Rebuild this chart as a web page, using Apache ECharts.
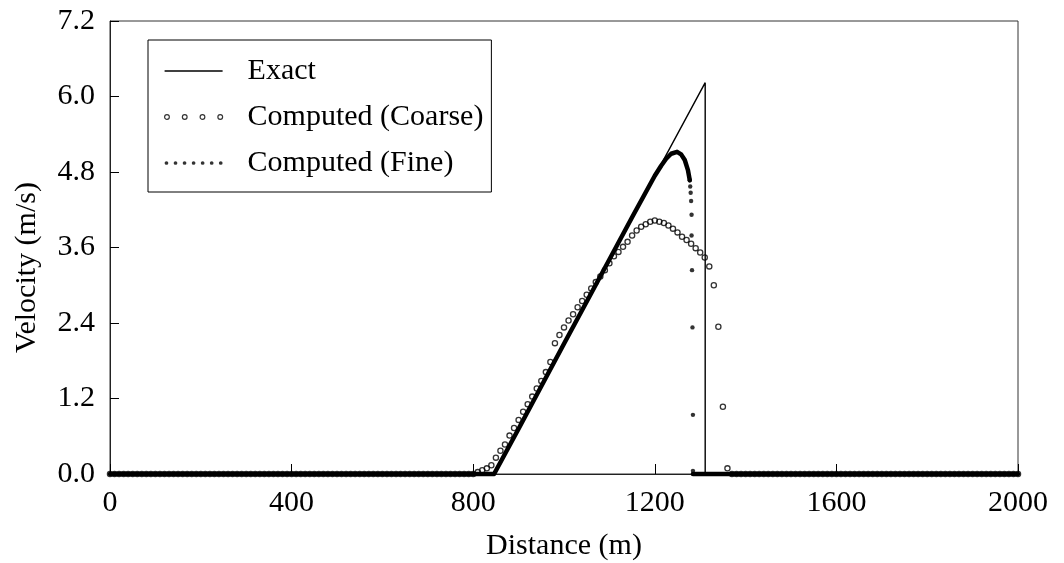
<!DOCTYPE html>
<html><head><meta charset="utf-8">
<script src="https://cdn.jsdelivr.net/npm/echarts/dist/echarts.min.js"></script>
<style>html,body{margin:0;padding:0;background:#fff}#c{width:1064px;height:563px}</style>
</head><body><div id="c"></div>
<script>
// ---- data ----
const xTickLabels = ['0', '400', '800', '1200', '1600', '2000'];
const yTickLabels = ['0.0', '1.2', '2.4', '3.6', '4.8', '6.0', '7.2'];

// Exact solution (triangular wave with shock)
const exactX = [0, 846, 1311, 1311, 2000];
const exactV = [0, 0, 6.22, 0, 0];

// Computed (Coarse): values on a 10 m grid starting at 0 m
const COARSE_DX = 10;
const coarseV = [
  // 0 .. 800 m
  0,0,0,0,0,0,0,0,0,0, 0,0,0,0,0,0,0,0,0,0,
  0,0,0,0,0,0,0,0,0,0, 0,0,0,0,0,0,0,0,0,0,
  0,0,0,0,0,0,0,0,0,0, 0,0,0,0,0,0,0,0,0,0,
  0,0,0,0,0,0,0,0,0,0, 0,0,0,0,0,0,0,0,0,0,
  0,
  // 810 .. 1360 m
  0.03, 0.06, 0.09, 0.14, 0.26, 0.37, 0.47, 0.61, 0.73, 0.86,
  0.99, 1.11, 1.23, 1.36, 1.48, 1.62, 1.78, 2.08, 2.21, 2.33,
  2.44, 2.54, 2.65, 2.75, 2.85, 2.95, 3.05, 3.14, 3.24, 3.35,
  3.46, 3.53, 3.61, 3.69, 3.79, 3.87, 3.93, 3.97, 4.01, 4.03,
  4.01, 3.99, 3.95, 3.90, 3.84, 3.77, 3.72, 3.66, 3.59, 3.52,
  3.44, 3.30, 3.00, 2.34, 1.07, 0.09,
  // 1370 .. 2000 m
  0,0,0,0,0,0,0,0,0,0, 0,0,0,0,0,0,0,0,0,0,
  0,0,0,0,0,0,0,0,0,0, 0,0,0,0,0,0,0,0,0,0,
  0,0,0,0,0,0,0,0,0,0, 0,0,0,0,0,0,0,0,0,0,
  0,0,0,0
];

// Computed (Fine): dense points, drawn as a continuous band where they merge
const fineBandX = [0, 846, 900, 1000, 1100, 1150, 1200, 1214, 1225, 1236, 1249, 1258, 1266, 1273, 1277];
const fineBandV = [0, 0, 0.72, 2.07, 3.41, 4.08, 4.74, 4.90, 5.01, 5.09, 5.12, 5.08, 4.99, 4.83, 4.67];
const fineDropX = [1277, 1278, 1279, 1280, 1281, 1281, 1282, 1283, 1284, 1284];
const fineDropV = [4.67, 4.57, 4.47, 4.34, 4.12, 3.79, 3.24, 2.33, 0.94, 0.05];
const fineTailX = [1284, 2000];
const fineTailV = [0, 0];

// ---- chart ----
const zip = (xs, ys) => xs.map((x, i) => [x, ys[i]]);
const coarseData = coarseV.map((v, i) => [i * COARSE_DX, v]);

const FONT = "'Liberation Serif', 'Times New Roman', serif";
const FS = 30;

function circles(cxs, r, cy) {
  return 'path://' + cxs.map(cx =>
    `M${cx - r},${cy} A${r},${r} 0 1,0 ${cx + r},${cy} A${r},${r} 0 1,0 ${cx - r},${cy} Z`).join(' ');
}

const chart = echarts.init(document.getElementById('c'), null, {renderer: 'canvas'});
chart.setOption({
  animation: false,
  backgroundColor: '#fff',
  grid: {left: 110, right: 46, top: 21, bottom: 89, show: true, borderColor: '#333', borderWidth: 1,
    containLabel: false, outerBoundsMode: 'none'},
  xAxis: {
    type: 'value', min: 0, max: 2000, interval: 400,
    name: 'Distance (m)', nameLocation: 'middle', nameGap: 57,
    nameTextStyle: {fontFamily: FONT, fontSize: FS, color: '#000'},
    axisLine: {lineStyle: {color: '#222', width: 1}},
    axisTick: {inside: true, length: 10, lineStyle: {color: '#000'}},
    axisLabel: {fontFamily: FONT, fontSize: FS, color: '#000', margin: 14,
      formatter: (v) => xTickLabels[Math.round(v / 400)]},
    splitLine: {show: false}
  },
  yAxis: {
    type: 'value', min: 0, max: 7.2, interval: 1.2,
    name: 'Velocity (m/s)', nameLocation: 'middle', nameGap: 68,
    nameTextStyle: {fontFamily: FONT, fontSize: FS, color: '#000', padding: [0, 40, 0, 0]},
    axisLine: {show: true, lineStyle: {color: '#222', width: 1}},
    axisTick: {show: true, inside: true, length: 9, lineStyle: {color: '#000'}},
    axisLabel: {fontFamily: FONT, fontSize: FS, color: '#000', margin: 15,
      formatter: (v) => yTickLabels[Math.round(v / 1.2)]},
    splitLine: {show: false}
  },
  legend: {
    left: 148, top: 40, orient: 'vertical',
    backgroundColor: '#fff', borderColor: '#000', borderWidth: 1,
    padding: [16, 8, 14, 16], itemGap: 16, itemWidth: 58, itemHeight: 6,
    textStyle: {fontFamily: FONT, fontSize: FS, color: '#000', padding: [0, 0, 0, 20]},
    data: [
      {name: 'Exact', icon: 'path://M0,0 L55,0 L55,1.5 L0,1.5 Z', itemStyle: {color: '#000'}},
      {name: 'Computed (Coarse)', icon: circles([2.5, 20.5, 38.5, 56.5], 2.4, 2.5),
        itemStyle: {color: 'rgba(0,0,0,0)', borderColor: '#000', borderWidth: 1.2}},
      {name: 'Computed (Fine)', icon: circles([1.9, 11.1, 20.3, 29.5, 38.7, 47.9, 57.1], 1.9, 1.9),
        itemStyle: {color: '#000'}}
    ]
  },
  series: [
    {
      name: 'Computed (Coarse)', type: 'scatter', z: 2, clip: false,
      data: coarseData, symbol: 'circle', symbolSize: 5.2,
      itemStyle: {color: 'rgba(0,0,0,0)', borderColor: '#000', borderWidth: 1.3}
    },
    {
      name: 'Exact', type: 'line', z: 3, clip: false, data: zip(exactX, exactV),
      symbol: 'none', lineStyle: {color: '#000', width: 1.4}, itemStyle: {color: '#000'}
    },
    {
      name: 'fine-band', type: 'line', z: 4, clip: false, data: zip(fineBandX, fineBandV),
      symbol: 'none', lineStyle: {color: '#000', width: 4.5, cap: 'round', join: 'round'}
    },
    {
      name: 'fine-tail', type: 'line', z: 4, clip: false, data: zip(fineTailX, fineTailV),
      symbol: 'none', lineStyle: {color: '#000', width: 4.5, cap: 'round'}
    },
    {
      name: 'Computed (Fine)', type: 'scatter', z: 5, clip: false,
      data: zip(fineDropX, fineDropV), symbol: 'circle', symbolSize: 4.4,
      itemStyle: {color: '#000'}
    }
  ]
});
</script></body></html>
